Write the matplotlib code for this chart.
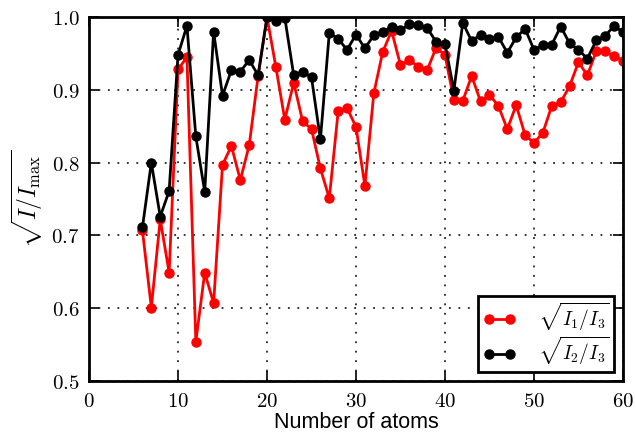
import matplotlib
matplotlib.use("Agg")
import matplotlib.pyplot as plt
from matplotlib.ticker import FuncFormatter, MultipleLocator

atoms = list(range(6, 61))
ratio13 = [0.707, 0.601, 0.722, 0.649, 0.928, 0.945, 0.554, 0.649, 0.607, 0.797,
           0.823, 0.776, 0.824, 0.919, 1.000, 0.931, 0.859, 0.910, 0.857, 0.846,
           0.792, 0.751, 0.871, 0.875, 0.849, 0.768, 0.895, 0.952, 0.981, 0.934,
           0.941, 0.932, 0.927, 0.958, 0.948, 0.886, 0.885, 0.919, 0.884, 0.893,
           0.878, 0.846, 0.879, 0.838, 0.827, 0.841, 0.878, 0.883, 0.905, 0.938,
           0.920, 0.953, 0.953, 0.946, 0.940]
ratio23 = [0.711, 0.800, 0.726, 0.761, 0.948, 0.988, 0.836, 0.760, 0.980, 0.892,
           0.927, 0.925, 0.941, 0.920, 1.000, 0.994, 0.999, 0.920, 0.925, 0.917,
           0.832, 0.978, 0.970, 0.955, 0.976, 0.957, 0.975, 0.979, 0.987, 0.982,
           0.990, 0.989, 0.985, 0.966, 0.963, 0.899, 0.992, 0.967, 0.976, 0.970,
           0.973, 0.951, 0.972, 0.984, 0.955, 0.961, 0.962, 0.987, 0.964, 0.955,
           0.943, 0.968, 0.974, 0.988, 0.979]

plt.rcParams['mathtext.fontset'] = 'cm'

fig = plt.figure(figsize=(6.36, 4.37), dpi=100)
ax = fig.add_axes([0.14, 0.128, 0.8395, 0.833])

ax.plot(atoms, ratio13, '-o', color='red', lw=2, ms=6.5, mec='red',
        label=r'$\sqrt{I_1/I_3}$')
ax.plot(atoms, ratio23, '-o', color='black', lw=2, ms=6.5, mec='black',
        label=r'$\sqrt{I_2/I_3}$')

ax.set_xlim(0, 60)
ax.set_ylim(0.5, 1.0)
ax.xaxis.set_major_locator(MultipleLocator(10))
ax.yaxis.set_major_locator(MultipleLocator(0.1))
ax.xaxis.set_major_formatter(FuncFormatter(lambda v, p: r'$%d$' % v))
ax.yaxis.set_major_formatter(FuncFormatter(lambda v, p: r'$%.1f$' % v))
ax.tick_params(direction='in', top=True, right=True, length=7, width=1.2,
               labelsize=15, pad=7)
ax.grid(True, color='black', linestyle=(0, (1.2, 5)), linewidth=1.1)
for s in ax.spines.values():
    s.set_linewidth(2)

ax.set_xlabel('Number of atoms', fontsize=15.5, labelpad=1,
              family=['Liberation Sans', 'DejaVu Sans'])
ax.set_ylabel(r'$\sqrt{I/I_{\rm max}}$', fontsize=17, labelpad=4)

leg = ax.legend(loc='lower right', fontsize=14, numpoints=2, fancybox=False,
                borderaxespad=0.45, handlelength=1.7, handletextpad=1.1,
                borderpad=0.25, labelspacing=0.12, framealpha=1)
leg.get_frame().set_edgecolor('black')
leg.get_frame().set_linewidth(2)

fig.savefig('out.png', dpi=100)
